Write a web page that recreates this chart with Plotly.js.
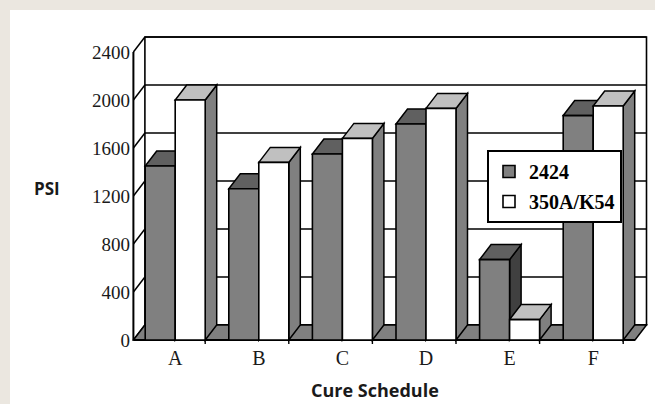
<!DOCTYPE html>
<html><head><meta charset="utf-8">
<script src="https://cdn.plot.ly/plotly-3.0.1.min.js"></script>
<style>
html,body{margin:0;padding:0;background:#ebe7e0;width:655px;height:404px;overflow:hidden}
#chart{position:absolute;left:10px;top:10px;width:645px;height:394px;background:#fff}
</style></head><body><div id="chart"></div>
<script>
// ---- data ----
const categories = ['A', 'B', 'C', 'D', 'E', 'F'];
const psi2424 = [1450, 1260, 1550, 1800, 670, 1870];
const psi350AK54 = [2000, 1480, 1680, 1930, 170, 1950];
const seriesNames = ['2424', '350A/K54'];
const yTickVals = [0, 400, 800, 1200, 1600, 2000, 2400];

// ---- geometry (pixels -> data units) ----
const W = 645, H = 394;
const M = {l: 121, r: 7, t: 25, b: 60};
const PX_PER_CAT = 83.6, PX_PER_UNIT = 0.12;
const DX = 11.5 / PX_PER_CAT, DY = 15 / PX_PER_UNIT;
const BAR_W = 30 / PX_PER_CAT;
const plotW = W - M.l - M.r, plotH = H - M.t - M.b;
const xMin = -0.5 - 2.4 / PX_PER_CAT, xMax = xMin + plotW / PX_PER_CAT;
const yMin = -4 / PX_PER_UNIT, yMax = yMin + plotH / PX_PER_UNIT;
const xIdx = categories.map((_, i) => i);
const xL = -0.5, xR = categories.length - 0.5;
const yTop = yTickVals[yTickVals.length - 1];

const shapes = [];
function poly(pts, fill, lw) {
  const d = 'M' + pts.map(p => p[0] + ',' + p[1]).join('L') + 'Z';
  shapes.push({type: 'path', xref: 'x', yref: 'y', layer: 'below', path: d,
    fillcolor: fill, line: {color: '#000', width: lw}});
}
function seg(x0, y0, x1, y1, lw) {
  shapes.push({type: 'line', xref: 'x', yref: 'y', layer: 'below', x0, y0, x1, y1,
    line: {color: '#000', width: lw}});
}
// back wall
poly([[xL + DX, DY], [xR + DX, DY], [xR + DX, yTop + DY], [xL + DX, yTop + DY]], '#ffffff', 1.6);
// back gridlines + side-wall diagonals
yTickVals.forEach(v => {
  seg(xL + DX, v + DY, xR + DX, v + DY, 1.5);
  seg(xL, v, xL + DX, v + DY, 1.5);
});
// floor
poly([[xL, 0], [xR, 0], [xR + DX, DY], [xL + DX, DY]], '#808080', 1.5);
// front axis + baseline
seg(xL, 0, xL, yTop, 2);
seg(xL, 0, xR, 0, 2.2);
// category ticks
xIdx.forEach(i => seg(i + BAR_W, 0, i + BAR_W, yMin, 1.4));

// 3D faces of bars (painter's order: 2424 then 350A/K54 per category)
xIdx.forEach(i => {
  [[psi2424[i], -BAR_W, '#606060', '#404040'], [psi350AK54[i], 0, '#c0c0c0', '#808080']].forEach(s => {
    const v = s[0], x0 = i + s[1], x1 = x0 + BAR_W;
    poly([[x1, 0], [x1 + DX, DY], [x1 + DX, v + DY], [x1, v]], s[3], 1.5);
    poly([[x0, v], [x1, v], [x1 + DX, v + DY], [x0 + DX, v + DY]], s[2], 1.5);
  });
});

const traces = [
  {type: 'bar', name: seriesNames[0], x: xIdx, y: psi2424, width: BAR_W, offset: -BAR_W,
   marker: {color: '#808080', line: {color: '#000', width: 1.6}}, legendgroup: 'a', hoverinfo: 'x+y'},
  {type: 'bar', name: seriesNames[1], x: xIdx, y: psi350AK54, width: BAR_W, offset: 0,
   marker: {color: '#ffffff', line: {color: '#000', width: 1.6}}, legendgroup: 'b', hoverinfo: 'x+y'}
];

const serif = 'Liberation Serif, Times New Roman, serif';
const layout = {
  width: W, height: H, margin: M,
  paper_bgcolor: '#ffffff', plot_bgcolor: 'rgba(0,0,0,0)',
  barmode: 'overlay',
  showlegend: true,
  legend: {x: (477 - M.l) / plotW, y: (H - M.b - 140) / plotH, xanchor: 'left', yanchor: 'top',
    bgcolor: '#ffffff', bordercolor: '#000', borderwidth: 2, tracegroupgap: 1,
    font: {family: serif, size: 20, color: '#000', weight: 'bold'}},
  xaxis: {range: [xMin, xMax], tickmode: 'array', tickvals: xIdx, ticktext: categories,
    ticks: '', showgrid: false, zeroline: false, showline: false, fixedrange: true,
    tickfont: {family: serif, size: 20, color: '#1a1a1a'}},
  yaxis: {range: [yMin, yMax], tickmode: 'array', tickvals: yTickVals,
    ticks: '', showgrid: false, zeroline: false, showline: false, fixedrange: true,
    tickfont: {family: serif, size: 19, color: '#1a1a1a'}},
  shapes: shapes,
  annotations: [
    {text: 'PSI', xref: 'paper', yref: 'paper', x: (37 - M.l) / plotW, y: (H - M.b - 178) / plotH,
     xanchor: 'center', yanchor: 'middle', showarrow: false,
     font: {family: 'Open Sans, sans-serif', size: 17, color: '#1a1a1a', weight: 'bold'}},
    {text: 'Cure Schedule', xref: 'paper', yref: 'paper', x: (365 - M.l) / plotW, y: (H - M.b - 380) / plotH,
     xanchor: 'center', yanchor: 'middle', showarrow: false,
     font: {family: 'Open Sans, sans-serif', size: 18, color: '#1a1a1a', weight: 'bold'}}
  ]
};
Plotly.newPlot('chart', traces, layout, {displayModeBar: false, staticPlot: true});
</script></body></html>
